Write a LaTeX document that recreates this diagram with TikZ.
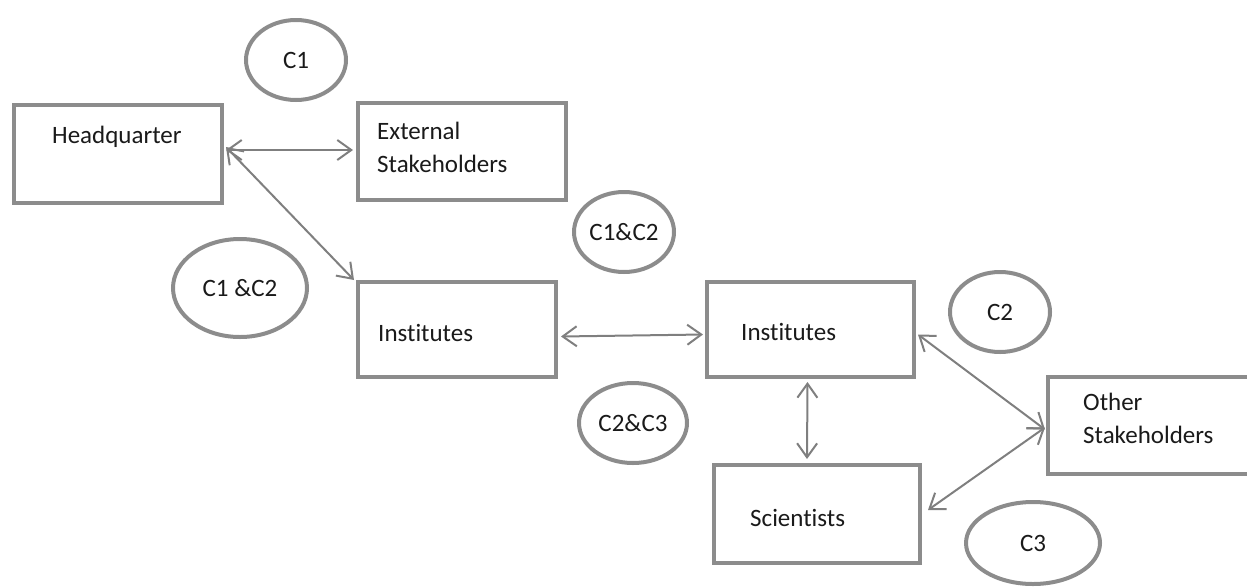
\documentclass[tikz,border=0pt]{standalone}
\usepackage{fontspec}
\setmainfont[Ligatures=NoCommon]{Carlito}
\usetikzlibrary{arrows.meta,shapes.geometric}
\definecolor{boxgray}{HTML}{8C8C8C}
\definecolor{arrgray}{HTML}{7F7F7F}
\definecolor{txt}{HTML}{1A1A1A}
\begin{document}
\begin{tikzpicture}[x=1pt,y=-1pt,
  box/.style={draw=boxgray,line width=4pt,rectangle,inner sep=0pt,fill=white},
  oval/.style={draw=boxgray,line width=4pt,ellipse,inner sep=0pt,text=txt,font=\fontsize{25}{31}\selectfont},
  lbl/.style={anchor=west,align=left,inner sep=0pt,text=txt,font=\fontsize{25}{33}\selectfont},
  arr/.style={draw=arrgray,line width=2pt,{Straight Barb[length=14pt,width=20pt]}-{Straight Barb[length=14pt,width=20pt]}}]
\useasboundingbox (0,0) rectangle (1247,587);
% boxes
\node[box,minimum width=208pt,minimum height=98pt] (hq) at (118,154) {};
\node[box,minimum width=208pt,minimum height=97pt] (ext) at (462,151.5) {};
\node[box,minimum width=198pt,minimum height=95pt] (ins1) at (457,329.5) {};
\node[box,minimum width=207pt,minimum height=95pt] (ins2) at (810.5,329.5) {};
\node[box,minimum width=206pt,minimum height=97pt] (oth) at (1151,425.5) {};
\node[box,minimum width=206pt,minimum height=98pt] (sci) at (817,514) {};
% labels
\node[lbl] (thq) at (52,137) {Headquarter};
\node[lbl] (text) at (377,147) {External\\Stakeholders};
\node[lbl] (tins1) at (378,333) {Institutes};
\node[lbl] (tins2) at (741,332) {Institutes};
\node[lbl] (toth) at (1083,418) {Other\\Stakeholders};
\node[lbl] (tsci) at (750,518) {Scientists};
% ellipses
\node[oval,minimum width=100pt,minimum height=80pt] (c1) at (296,60) {C1};
\node[oval,minimum width=100pt,minimum height=80pt] (c12a) at (624,232) {C1\&C2};
\node[oval,minimum width=134pt,minimum height=98pt] (c12b) at (240,288) {C1 \&C2};
\node[oval,minimum width=100pt,minimum height=80pt] (c2) at (1000,312) {C2};
\node[oval,minimum width=108pt,minimum height=80pt] (c23) at (633,423) {C2\&C3};
\node[oval,minimum width=134pt,minimum height=82pt] (c3) at (1033,543) {C3};
% connectors
\draw[arr] ([xshift=2pt,yshift=4pt]hq.east) -- ([xshift=-3pt,yshift=1.5pt]ext.west);
\draw[arr] ([xshift=2pt,yshift=7pt]hq.east) -- ([xshift=-2pt]ins1.north west);
\draw[arr] ([xshift=3pt,yshift=-7pt]ins1.east) -- ([xshift=-2pt,yshift=-5pt]ins2.west);
\draw[arr] ([xshift=-3pt,yshift=-3pt]ins2.south) -- ([xshift=-10pt,yshift=4pt]sci.north);
\draw[arr] ([xshift=2pt,yshift=-5pt]ins2.east) -- ([xshift=-1pt,yshift=-4pt]oth.west);
\draw[arr] ([xshift=6pt,yshift=4pt]sci.east) -- ([xshift=-1pt,yshift=-2pt]oth.west);
\end{tikzpicture}
\end{document}
